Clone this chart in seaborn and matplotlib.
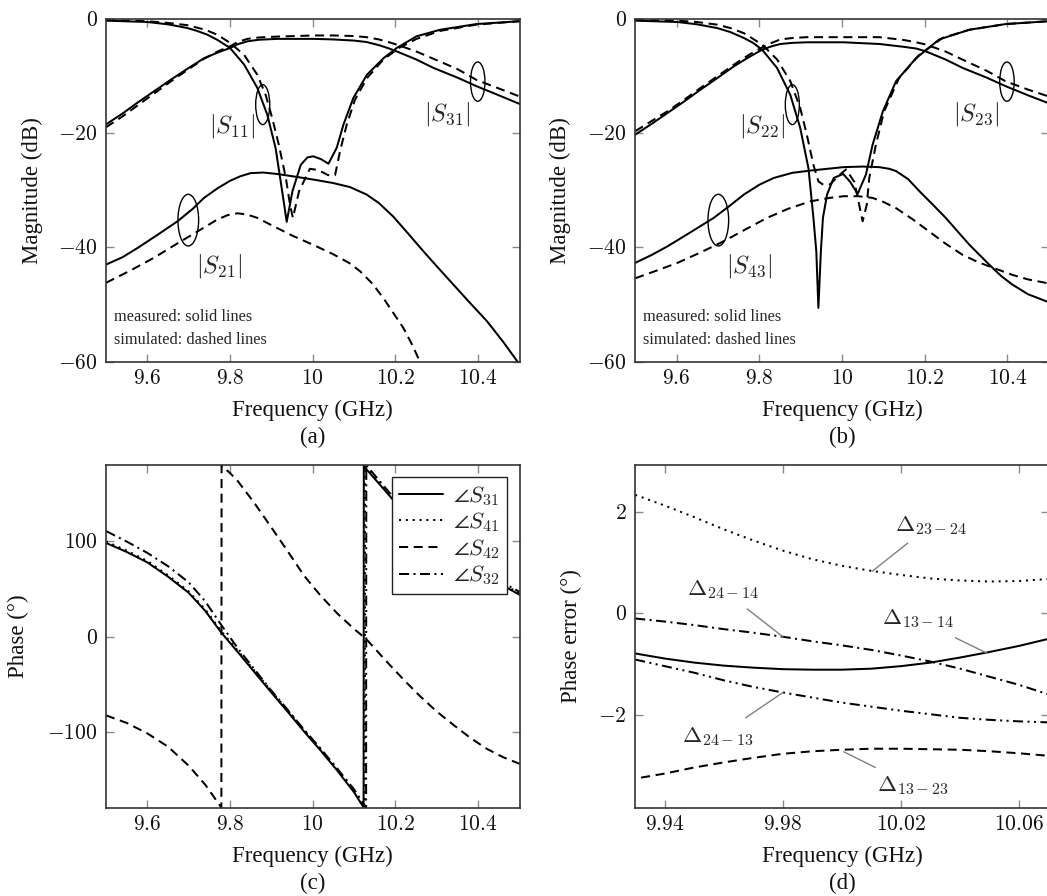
import matplotlib
matplotlib.use("Agg")
import numpy as np
import pandas as pd
import matplotlib.pyplot as plt
import seaborn as sns
from matplotlib.patches import Ellipse
from matplotlib.ticker import FuncFormatter

# ---- (a) port 1 excitation: magnitudes in dB ----
f_s11_meas = [9.5, 9.6, 9.65, 9.697, 9.72, 9.745, 9.77, 9.8, 9.834, 9.866, 9.89, 9.91, 9.926, 9.937,
              9.951, 9.971, 9.987, 10.001, 10.02, 10.038, 10.058, 10.074, 10.098, 10.131, 10.171, 10.203,
              10.251, 10.308, 10.396, 10.5]
s11_meas = [-0.2, -0.44, -0.85, -1.5, -2.0, -2.66, -3.6, -5.0, -7.9, -12.0, -16.7, -22.5, -30.1, -35.5,
            -30.1, -25.5, -24.2, -24.0, -24.5, -25.3, -22.5, -18.5, -13.8, -9.7, -6.8, -5.0, -2.95, -1.8,
            -0.8, -0.3]
f_s11_sim = [9.5, 9.6, 9.65, 9.697, 9.74, 9.769, 9.8, 9.834, 9.866, 9.886, 9.902, 9.918, 9.935, 9.945,
             9.952, 9.967, 9.993, 10.013, 10.037, 10.054, 10.066, 10.082, 10.102, 10.131, 10.171, 10.211,
             10.251, 10.308, 10.396, 10.5]
s11_sim = [-0.1, -0.3, -0.6, -1.0, -1.8, -2.66, -4.1, -6.2, -9.7, -13.2, -17.3, -22.0, -27.8, -32.5,
           -34.8, -30.1, -26.2, -26.4, -27.3, -27.3, -23.1, -18.5, -14.1, -10.3, -7.0, -4.9, -3.4, -2.0,
           -0.9, -0.3]
f_s31 = [9.5, 9.54, 9.576, 9.62, 9.656, 9.70, 9.737, 9.77, 9.8, 9.82, 9.842, 9.87, 9.914, 10.003, 10.05,
         10.1, 10.13, 10.16, 10.185, 10.203, 10.25, 10.292, 10.35, 10.396, 10.45, 10.5]
s31_meas = [-18.4, -16.5, -14.6, -12.4, -10.6, -8.5, -6.8, -5.8, -5.0, -4.3, -3.83, -3.55, -3.4, -3.4,
            -3.5, -3.7, -3.95, -4.5, -5.1, -5.6, -7.0, -8.5, -10.2, -11.7, -13.3, -14.8]
s31_sim = [-18.9, -17.0, -15.1, -12.8, -10.9, -8.7, -6.9, -5.6, -4.7, -3.9, -3.4, -3.15, -3.0, -2.8, -2.8,
           -2.9, -3.1, -3.5, -4.0, -4.4, -5.6, -6.9, -8.7, -10.6, -12.1, -13.5]
f_s21_meas = [9.5, 9.54, 9.576, 9.62, 9.673, 9.71, 9.737, 9.77, 9.8, 9.825, 9.85, 9.88, 9.914, 9.96,
              10.003, 10.05, 10.09, 10.13, 10.16, 10.195, 10.23, 10.268, 10.3, 10.34, 10.38, 10.421,
              10.46, 10.5]
s21_meas = [-43.0, -41.7, -40.1, -38.0, -35.4, -33.2, -31.3, -29.6, -28.3, -27.5, -26.95, -26.85, -27.1,
            -27.6, -28.1, -28.7, -29.4, -30.7, -32.2, -34.6, -37.5, -40.7, -43.3, -46.5, -49.7, -52.9,
            -56.5, -60.5]
f_s21_sim = [9.5, 9.56, 9.616, 9.67, 9.721, 9.769, 9.795, 9.818, 9.84, 9.866, 9.898, 9.95, 10.003, 10.05,
             10.09, 10.115, 10.145, 10.171, 10.195, 10.219, 10.24, 10.259, 10.285]
s21_sim = [-46.2, -44.0, -41.8, -39.4, -37.2, -35.1, -34.3, -34.0, -34.2, -34.8, -36.0, -37.9, -39.6,
           -41.2, -42.8, -44.2, -46.4, -48.9, -51.5, -54.1, -57.0, -60.0, -64.0]

# ---- (b) port 2 excitation ----
f_s22_meas = [9.5, 9.602, 9.65, 9.698, 9.73, 9.763, 9.785, 9.807, 9.843, 9.875, 9.899, 9.919, 9.931,
              9.938, 9.943, 9.949, 9.954, 9.964, 9.98, 10.003, 10.02, 10.038, 10.058, 10.074, 10.099,
              10.131, 10.179, 10.235, 10.308, 10.396, 10.5]
s22_meas = [-0.2, -0.44, -0.85, -1.5, -2.2, -3.25, -4.1, -5.3, -8.5, -13.2, -19.0, -26.1, -34.8, -40.7,
            -50.6, -40.7, -34.8, -30.7, -27.8, -27.1, -28.5, -30.6, -27.2, -22.0, -16.1, -10.8, -6.8,
            -3.5, -1.8, -0.8, -0.3]
f_s22_sim = [9.5, 9.602, 9.65, 9.698, 9.73, 9.763, 9.807, 9.843, 9.875, 9.899, 9.915, 9.931, 9.943,
             9.955, 9.972, 9.99, 10.01, 10.03, 10.05, 10.06, 10.066, 10.082, 10.102, 10.138, 10.187,
             10.243, 10.308, 10.396, 10.5]
s22_sim = [-0.1, -0.2, -0.45, -0.9, -1.5, -2.4, -4.4, -7.0, -10.8, -15.5, -20.2, -25.5, -28.4, -29.0,
           -28.9, -27.5, -26.3, -28.5, -35.4, -32.5, -27.8, -22.0, -16.1, -10.3, -6.2, -3.25, -1.8, -0.8,
           -0.3]
f_s23 = [9.5, 9.54, 9.578, 9.62, 9.658, 9.7, 9.739, 9.775, 9.807, 9.83, 9.851, 9.88, 9.915, 10.004,
         10.091, 10.15, 10.18, 10.203, 10.25, 10.292, 10.35, 10.396, 10.45, 10.5]
s23_meas = [-20.2, -18.3, -16.4, -14.3, -12.3, -10.2, -8.2, -6.6, -5.3, -4.7, -4.3, -4.1, -4.0, -4.0,
            -4.3, -4.8, -5.1, -5.6, -7.0, -8.5, -10.2, -11.7, -13.3, -14.7]
s23_sim = [-19.6, -17.8, -16.1, -14.0, -12.0, -9.9, -7.9, -6.2, -4.9, -4.1, -3.5, -3.25, -3.1, -3.1,
           -3.1, -3.6, -4.0, -4.4, -5.6, -7.05, -9.0, -10.85, -12.3, -13.5]
f_s43_meas = [9.5, 9.54, 9.578, 9.63, 9.69, 9.73, 9.763, 9.8, 9.835, 9.88, 9.924, 10.004, 10.05, 10.09,
              10.115, 10.131, 10.16, 10.187, 10.22, 10.251, 10.28, 10.308, 10.356, 10.385, 10.412,
              10.45, 10.5]
s43_meas = [-42.7, -41.3, -39.8, -37.5, -34.8, -32.6, -30.7, -29.0, -27.8, -26.9, -26.5, -25.9, -25.8,
            -25.9, -26.2, -26.6, -28.0, -30.1, -32.5, -34.8, -37.2, -39.5, -43.0, -45.0, -46.5, -48.2,
            -49.6]
f_s43_sim = [9.5, 9.55, 9.602, 9.66, 9.714, 9.77, 9.819, 9.87, 9.924, 9.97, 10.004, 10.04, 10.074, 10.1,
             10.131, 10.17, 10.211, 10.25, 10.292, 10.33, 10.356, 10.412, 10.45, 10.5]
s43_sim = [-45.4, -44.1, -42.7, -40.8, -38.9, -36.7, -34.8, -33.2, -31.9, -31.3, -31.0, -31.0, -31.3,
           -32.0, -33.1, -35.0, -37.2, -39.3, -41.3, -42.6, -43.3, -44.8, -45.6, -46.3]

# ---- (c) phases in degrees ----
f_p31 = [9.5, 9.55, 9.6, 9.65, 9.7, 9.74, 9.779, 9.818, 9.858, 9.898, 9.939, 9.979, 10.019, 10.059, 10.1,
         10.123, 10.1235, 10.128, 10.192, 10.25, 10.3, 10.35, 10.4, 10.45, 10.5]
p31 = [98.5, 89, 78, 63, 46, 27, 4, -16, -37, -58, -79, -100, -120, -141, -164, -180, 180, 177, 145,
       122, 103, 86, 70, 56, 44]
f_p41 = [9.5, 9.55, 9.6, 9.65, 9.7, 9.74, 9.779, 9.818, 9.858, 9.898, 9.939, 9.979, 10.019, 10.059, 10.1,
         10.126, 10.1265, 10.131, 10.192, 10.25, 10.3, 10.35, 10.4, 10.45, 10.5]
p41 = [100, 90.5, 79.5, 64.5, 47.5, 28.5, 5.5, -14.5, -35.5, -56.5, -77.5, -98.5, -118.5, -139.5, -162,
       -180, 180, 178, 146.5, 123.5, 104.5, 87.5, 71.5, 57.5, 45.5]
f_p32 = [9.5, 9.55, 9.6, 9.65, 9.7, 9.74, 9.779, 9.818, 9.858, 9.898, 9.939, 9.979, 10.019, 10.059, 10.1,
         10.129, 10.1295, 10.134, 10.192, 10.25, 10.3, 10.35, 10.4, 10.45, 10.5]
p32 = [111, 100, 88, 74, 57, 37, 12, -12, -34, -56, -77, -98, -118, -139, -161, -180, 180, 178, 148,
       125, 106, 89, 73, 59, 47]
f_p42 = [9.5, 9.55, 9.6, 9.65, 9.7, 9.74, 9.779, 9.7795, 9.80, 9.818, 9.858, 9.898, 9.939, 9.979,
         10.019, 10.06, 10.1, 10.13, 10.18, 10.221, 10.26, 10.3, 10.34, 10.382, 10.42, 10.46, 10.5]
p42 = [-83, -91, -102, -116, -136, -156, -180, 180, 172, 164, 141, 116, 90, 64, 43, 24, 8, -3, -27,
       -46, -63, -79, -93, -107, -118, -127, -134]

# ---- (d) phase errors in degrees ----
f_err = [9.93, 9.94, 9.95, 9.96, 9.97, 9.98, 9.99, 10.0, 10.01, 10.02, 10.03, 10.04, 10.05, 10.06, 10.07]
d23_24 = [2.34, 2.13, 1.90, 1.66, 1.44, 1.24, 1.07, 0.94, 0.84, 0.76, 0.69, 0.65, 0.63, 0.64, 0.68]
d13_14 = [-0.79, -0.89, -0.97, -1.03, -1.07, -1.10, -1.11, -1.11, -1.09, -1.04, -0.97, -0.87, -0.76,
          -0.64, -0.50]
d24_14 = [-0.10, -0.16, -0.23, -0.31, -0.38, -0.46, -0.55, -0.63, -0.72, -0.83, -0.95, -1.09, -1.25,
          -1.41, -1.60]
d24_13 = [-0.91, -1.04, -1.17, -1.32, -1.45, -1.56, -1.66, -1.76, -1.84, -1.92, -1.99, -2.06, -2.10,
          -2.13, -2.15]
f_d13_23 = [9.932, 9.94, 9.95, 9.96, 9.97, 9.98, 9.99, 10.0, 10.01, 10.02, 10.03, 10.04, 10.05, 10.06, 10.07]
d13_23 = [-3.24, -3.16, -3.04, -2.94, -2.85, -2.77, -2.72, -2.69, -2.67, -2.67, -2.68, -2.69, -2.72,
          -2.76, -2.81]

mag_ticks = [0, -20, -40, -60]
freq_ticks = [9.6, 9.8, 10.0, 10.2, 10.4]
phase_ticks = [-100, 0, 100]
err_xticks = [9.94, 9.98, 10.02, 10.06]
err_yticks = [-2, 0, 2]

sns.set_theme(style="ticks")
plt.rcParams["font.family"] = ["Liberation Serif", "DejaVu Serif"]
plt.rcParams["mathtext.fontset"] = "cm"

SOLID = "-"
DASH = (0, (4.5, 2.8))
DOT = (0, (1, 2.4))
DASHDOT = (0, (5, 2.2, 1, 2.2))
DASHDOTDOT = (0, (5, 2.2, 1, 2.2, 1, 2.2))
LW = 1.45

fig = plt.figure(figsize=(10.47, 8.96), dpi=100)
W, H = 0.39494, 0.3817
ax_a = fig.add_axes([0.10124, 0.59654, W, H])
ax_b = fig.add_axes([0.60669, 0.59654, W, H])
ax_c = fig.add_axes([0.10124, 0.09877, W, H])
ax_d = fig.add_axes([0.60669, 0.09877, W, H])


def line(ax, x, y, ls, label=None):
    sns.lineplot(x=x, y=y, ax=ax, color="black", linestyle=ls, lw=LW, sort=False,
                 estimator=None, legend=False, label=label)


fmt = FuncFormatter(lambda v, p: f"${round(v, 3):g}$")


def style(ax, xlim, ylim, xticks, yticks, xlab, ylab, ylab_x, cap):
    ax.set_xlim(xlim)
    ax.set_ylim(ylim)
    ax.set_xticks(xticks)
    ax.set_yticks(yticks)
    ax.xaxis.set_major_formatter(fmt)
    ax.yaxis.set_major_formatter(fmt)
    ax.tick_params(direction="in", length=6, width=1, color="#8a8a8a", top=True, right=True,
                   labelsize=15.5, pad=6, labelcolor="#111111")
    for s in ax.spines.values():
        s.set_linewidth(1.2)
        s.set_color("#333333")
    ax.set_xlabel(xlab, fontsize=16.5, color="#111111")
    ax.set_ylabel(ylab, fontsize=16.5, color="#111111")
    ax.xaxis.set_label_coords(0.5, -0.142)
    ax.xaxis.label.set_va("center")
    ax.yaxis.set_label_coords(ylab_x, 0.5)
    ax.yaxis.label.set_va("center")
    ax.text(0.5, -0.222, cap, transform=ax.transAxes, ha="center", va="center", fontsize=16.5,
            color="#111111")


def ellipse(ax, xy, w, h):
    ax.add_patch(Ellipse(xy, w, h, fill=False, ec="black", lw=1.0))


# (a)
line(ax_a, f_s11_meas, s11_meas, SOLID)
line(ax_a, f_s11_sim, s11_sim, DASH)
line(ax_a, f_s31, s31_meas, SOLID)
line(ax_a, f_s31, s31_sim, DASH)
line(ax_a, f_s21_meas, s21_meas, SOLID)
line(ax_a, f_s21_sim, s21_sim, DASH)
ellipse(ax_a, (9.879, -14.94), 0.034, 7.0)
ellipse(ax_a, (10.399, -10.9), 0.035, 6.9)
ellipse(ax_a, (9.699, -35.2), 0.05, 9.06)
ax_a.text(9.805, -18.7, r"$|S_{11}|$", fontsize=17.5, ha="center", va="center")
ax_a.text(10.325, -16.6, r"$|S_{31}|$", fontsize=17.5, ha="center", va="center")
ax_a.text(9.773, -43.3, r"$|S_{21}|$", fontsize=17.5, ha="center", va="center")
ax_a.text(9.519, -52.2, "measured: solid lines", fontsize=11.8, ha="left", va="center")
ax_a.text(9.519, -56.2, "simulated: dashed lines", fontsize=11.8, ha="left", va="center")
style(ax_a, (9.5, 10.5), (-60, 0), freq_ticks, mag_ticks, "Frequency (GHz)", "Magnitude (dB)",
      -0.179, "(a)")

# (b)
line(ax_b, f_s22_meas, s22_meas, SOLID)
line(ax_b, f_s22_sim, s22_sim, DASH)
line(ax_b, f_s23, s23_meas, SOLID)
line(ax_b, f_s23, s23_sim, DASH)
line(ax_b, f_s43_meas, s43_meas, SOLID)
line(ax_b, f_s43_sim, s43_sim, DASH)
ellipse(ax_b, (9.880, -14.94), 0.034, 7.0)
ellipse(ax_b, (10.399, -10.9), 0.035, 6.9)
ellipse(ax_b, (9.701, -35.2), 0.05, 9.06)
ax_b.text(9.807, -18.7, r"$|S_{22}|$", fontsize=17.5, ha="center", va="center")
ax_b.text(10.325, -16.6, r"$|S_{23}|$", fontsize=17.5, ha="center", va="center")
ax_b.text(9.775, -43.3, r"$|S_{43}|$", fontsize=17.5, ha="center", va="center")
ax_b.text(9.519, -52.2, "measured: solid lines", fontsize=11.8, ha="left", va="center")
ax_b.text(9.519, -56.2, "simulated: dashed lines", fontsize=11.8, ha="left", va="center")
style(ax_b, (9.5, 10.5), (-60, 0), freq_ticks, mag_ticks, "Frequency (GHz)", "Magnitude (dB)",
      -0.182, "(b)")

# (c)
line(ax_c, f_p31, p31, SOLID, r"$\angle S_{31}$")
line(ax_c, f_p41, p41, DOT, r"$\angle S_{41}$")
line(ax_c, f_p42, p42, DASH, r"$\angle S_{42}$")
line(ax_c, f_p32, p32, DASHDOT, r"$\angle S_{32}$")
leg = ax_c.legend(loc="upper right", bbox_to_anchor=(0.969, 0.967), borderaxespad=0, fontsize=16.5,
                  frameon=True, fancybox=False, framealpha=1, edgecolor="#222222", handlelength=1.9,
                  handletextpad=0.45, labelspacing=0.12, borderpad=0.3)
leg.get_frame().set_linewidth(1.0)
style(ax_c, (9.5, 10.5), (-180, 180), freq_ticks, phase_ticks, "Frequency (GHz)", "Phase (°)",
      -0.211, "(c)")

# (d)
line(ax_d, f_err, d23_24, DOT)
line(ax_d, f_err, d13_14, SOLID)
line(ax_d, f_err, d24_14, DASHDOT)
line(ax_d, f_err, d24_13, DASHDOTDOT)
line(ax_d, f_d13_23, d13_23, DASH)
notes = [
    (r"$\Delta_{23-24}$", (10.0301, 1.73), (10.0223, 1.39), (10.0102, 0.83)),
    (r"$\Delta_{24-14}$", (9.9597, 0.47), (9.9679, 0.09), (9.98, -0.46)),
    (r"$\Delta_{13-14}$", (10.0256, -0.105), (10.0384, -0.48), (10.0493, -0.79)),
    (r"$\Delta_{24-13}$", (9.958, -2.42), (9.9674, -2.06), (9.98, -1.56)),
    (r"$\Delta_{13-23}$", (10.024, -3.40), (10.0113, -3.04), (10.0006, -2.73)),
]
for txt, pos, p0, p1 in notes:
    ax_d.text(pos[0], pos[1], txt, fontsize=16.5, ha="center", va="center")
    ax_d.plot([p0[0], p1[0]], [p0[1], p1[1]], color="#808080", lw=1.0)
style(ax_d, (9.93, 10.07), (-3.83, 2.92), err_xticks, err_yticks, "Frequency (GHz)",
      "Phase error (°)", -0.153, "(d)")

fig.savefig("out.png", dpi=100)
